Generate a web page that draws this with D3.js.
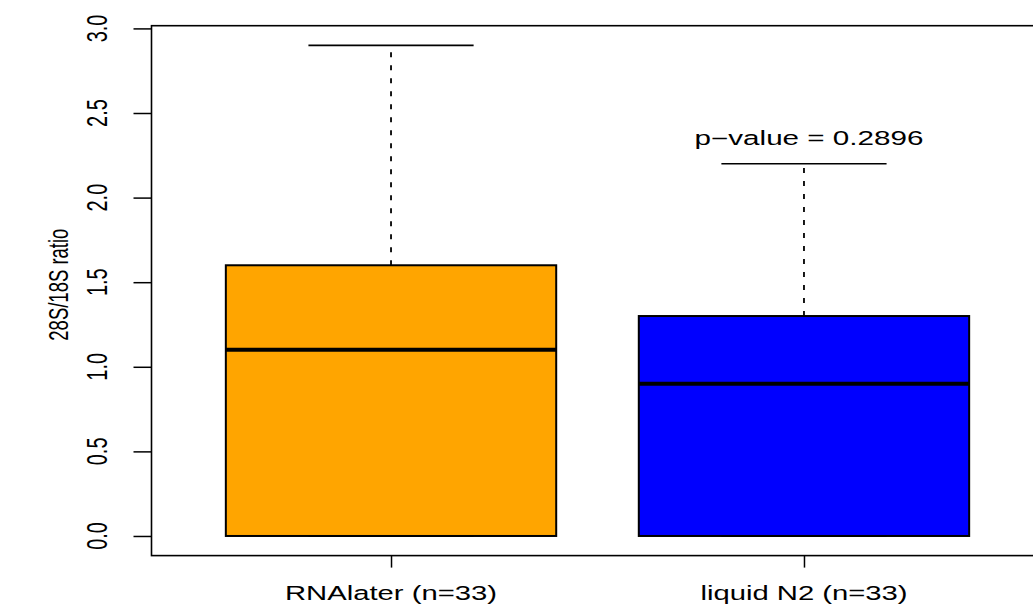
<!DOCTYPE html>
<html>
<head>
<meta charset="utf-8">
<script src="https://cdn.jsdelivr.net/npm/d3@7/dist/d3.min.js"></script>
<style>
  html, body { margin: 0; padding: 0; background: #ffffff; }
  svg { display: block; }
  text { font-family: "Liberation Sans", Arial, Helvetica, sans-serif; fill: #000; }
</style>
</head>
<body>
<svg id="chart" width="1033" height="606"></svg>
<script>
// Five-number summaries of the 28S/18S ratio for each storage method
const categories = ["RNAlater (n=33)", "liquid N2 (n=33)"];
const whiskerLow = [0.0, 0.0];
const lowerQuartile = [0.0, 0.0];
const medians = [1.1, 0.9];
const upperQuartile = [1.6, 1.3];
const whiskerHigh = [2.9, 2.2];
const boxFills = ["#FFA500", "#0000FF"];

const yTicks = [0.0, 0.5, 1.0, 1.5, 2.0, 2.5, 3.0];
const yLabel = "28S/18S ratio";
const pValueText = "p\u2212value = 0.2896";
const pValueAt = { group: 2, value: 2.35 };

const svg = d3.select("#chart");

// Plot region scales (group positions 1 and 2, padded as in a base-R boxplot)
const x = d3.scaleLinear().domain([0.42, 2.58]).range([151.5, 1043.5]);
const y = d3.scaleLinear().domain([-0.116, 3.016]).range([555.6, 25.7]);

const boxHalf = 0.4;     // half box width, in group units
const capHalf = 0.2;     // half whisker-cap width
const xStretch = 1.5;    // lettering is drawn wide along the horizontal

const groups = categories.map((c, i) => ({
  name: c, pos: i + 1,
  lo: whiskerLow[i], q1: lowerQuartile[i], med: medians[i],
  q3: upperQuartile[i], hi: whiskerHigh[i], fill: boxFills[i]
}));

const g = svg.append("g");

// whiskers (dashed) and caps
groups.forEach(d => {
  g.append("line")
    .attr("x1", x(d.pos)).attr("x2", x(d.pos))
    .attr("y1", y(d.q3)).attr("y2", y(d.hi))
    .attr("stroke", "#000").attr("stroke-width", 1.8)
    .attr("stroke-dasharray", "5,8");
  g.append("line")
    .attr("x1", x(d.pos)).attr("x2", x(d.pos))
    .attr("y1", y(d.q1)).attr("y2", y(d.lo))
    .attr("stroke", "#000").attr("stroke-width", 1.8)
    .attr("stroke-dasharray", "5,8");
  [d.hi, d.lo].forEach(v => {
    g.append("line")
      .attr("x1", x(d.pos - capHalf)).attr("x2", x(d.pos + capHalf))
      .attr("y1", y(v)).attr("y2", y(v))
      .attr("stroke", "#000").attr("stroke-width", 1.6);
  });
});

// boxes
g.selectAll("rect.box").data(groups).join("rect")
  .attr("class", "box")
  .attr("x", d => x(d.pos - boxHalf))
  .attr("width", d => x(d.pos + boxHalf) - x(d.pos - boxHalf))
  .attr("y", d => y(d.q3))
  .attr("height", d => y(d.q1) - y(d.q3))
  .attr("fill", d => d.fill)
  .attr("stroke", "#000").attr("stroke-width", 2);

// medians
g.selectAll("line.median").data(groups).join("line")
  .attr("class", "median")
  .attr("x1", d => x(d.pos - boxHalf)).attr("x2", d => x(d.pos + boxHalf))
  .attr("y1", d => y(d.med)).attr("y2", d => y(d.med))
  .attr("stroke", "#000").attr("stroke-width", 4);

// frame around the plot region
const [x0, x1] = x.range();
const [yb, yt] = y.range();
svg.append("rect")
  .attr("x", x0).attr("y", yt)
  .attr("width", x1 - x0).attr("height", yb - yt)
  .attr("fill", "none").attr("stroke", "#000").attr("stroke-width", 1.6);

// y axis
const yAxis = d3.axisLeft(y).tickValues(yTicks).tickSize(18).tickFormat("");
const ya = svg.append("g").attr("transform", `translate(${x0},0)`).call(yAxis);
ya.select(".domain").remove();
ya.selectAll(".tick line").attr("stroke-width", 1.5);

svg.selectAll("text.ytick").data(yTicks).join("text")
  .attr("class", "ytick")
  .attr("transform", d => `translate(107,${y(d)}) scale(${xStretch},1) rotate(-90)`)
  .attr("text-anchor", "middle")
  .attr("font-size", 20)
  .text(d => d3.format(".1f")(d));

// x axis
const xAxis = d3.axisBottom(x).tickValues(groups.map(d => d.pos)).tickSize(12).tickFormat("");
const xa = svg.append("g").attr("transform", `translate(0,${yb})`).call(xAxis);
xa.select(".domain").remove();
xa.selectAll(".tick line").attr("stroke-width", 1.5);

svg.selectAll("text.xtick").data(groups).join("text")
  .attr("class", "xtick")
  .attr("transform", d => `translate(${x(d.pos)},600) scale(${xStretch},1)`)
  .attr("text-anchor", "middle")
  .attr("font-size", 19.5)
  .text(d => d.name);

// y axis title
svg.append("text")
  .attr("transform", `translate(68,${(yb + yt) / 2 - 6}) scale(${xStretch},1) rotate(-90)`)
  .attr("text-anchor", "middle")
  .attr("font-size", 18.5)
  .text(yLabel);

// test result annotation
svg.append("text")
  .attr("transform", `translate(${x(pValueAt.group) + 5},${y(pValueAt.value)}) scale(1.52,1)`)
  .attr("text-anchor", "middle")
  .attr("dominant-baseline", "central")
  .attr("font-size", 19.5)
  .text(pValueText);
</script>
</body>
</html>
